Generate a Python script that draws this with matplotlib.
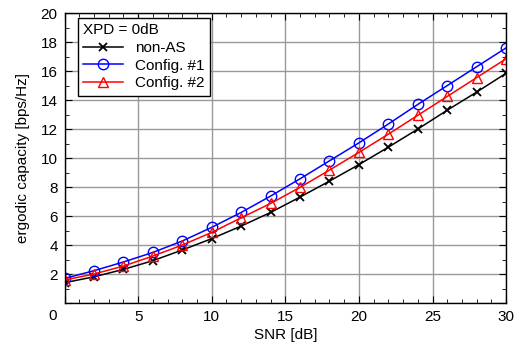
import matplotlib.pyplot as plt
from matplotlib.ticker import MultipleLocator

plt.rcParams["font.family"] = ["Liberation Sans", "DejaVu Sans"]
plt.rcParams["font.size"] = 11

snr = [0, 2, 4, 6, 8, 10, 12, 14, 16, 18, 20, 22, 24, 26, 28, 30]
non_as = [1.40, 1.81, 2.32, 2.92, 3.66, 4.44, 5.31, 6.25, 7.31, 8.41,
          9.55, 10.75, 12.0, 13.3, 14.55, 15.85]
config1 = [1.70, 2.23, 2.83, 3.49, 4.28, 5.22, 6.25, 7.38, 8.57, 9.81,
           11.05, 12.35, 13.7, 15.0, 16.3, 17.6]
config2 = [1.59, 2.00, 2.55, 3.24, 4.00, 4.87, 5.88, 6.87, 7.98, 9.17,
           10.39, 11.65, 12.95, 14.25, 15.55, 16.85]

fig = plt.figure(figsize=(5.25, 3.54), dpi=100)
ax = fig.add_axes([0.123, 0.144, 0.841, 0.819])

ax.plot(snr, non_as, color="black", marker="x", ms=6, mew=1.3, lw=1.1,
        label="non-AS")
ax.plot(snr, config1, color="blue", marker="o", ms=7.5, mfc="none",
        mew=1.0, lw=1.1, label="Config. #1")
ax.plot(snr, config2, color="red", marker="^", ms=6.5, mfc="none",
        mew=1.0, lw=1.1, label="Config. #2")

ax.set_xlim(0, 30)
ax.set_ylim(0, 20)
ax.set_xticks(range(0, 31, 5))
ax.set_xticklabels([""] + [str(v) for v in range(5, 31, 5)])
ax.xaxis.set_minor_locator(MultipleLocator(1))
ax.set_yticks(range(0, 21, 2))
ax.set_yticklabels([""] + [str(v) for v in range(2, 21, 2)])
ax.yaxis.set_minor_locator(MultipleLocator(1))
ax.tick_params(which="both", direction="in", top=True, right=True)
ax.tick_params(which="major", length=5, pad=5)
ax.tick_params(which="minor", length=3)
ax.grid(which="major", color="0.6", lw=1.0)
ax.set_axisbelow(True)
for s in ax.spines.values():
    s.set_linewidth(1.0)

# shared corner "0" label, sitting left of the origin as in the reference
ax.annotate("0", (0, 0), xycoords="data", textcoords="offset pixels",
            xytext=(-12, -13), ha="center", va="center", fontsize=11,
            annotation_clip=False)

ax.set_xlabel("SNR [dB]", labelpad=3)
ax.set_ylabel("ergodic capacity [bps/Hz]", labelpad=8)

leg = ax.legend(title="XPD = 0dB", loc="upper left", fancybox=False,
                edgecolor="black", framealpha=1, borderaxespad=0.3,
                bbox_to_anchor=(0.02, 1.0), handlelength=2.6,
                borderpad=0.35, labelspacing=0.25, title_fontsize=11)
leg._legend_box.align = "left"
leg.get_frame().set_linewidth(1.0)

fig.savefig("out.png", dpi=100)
